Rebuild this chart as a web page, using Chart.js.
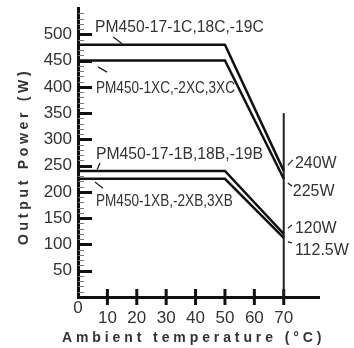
<!DOCTYPE html>
<html><head><meta charset="utf-8">
<script src="https://cdn.jsdelivr.net/npm/chart.js@4/dist/chart.umd.min.js"></script>
<style>html,body{margin:0;padding:0;background:#fff}#wrap{width:354px;height:348px}</style>
</head><body><div id="wrap"><canvas id="c" width="354" height="348"></canvas></div>
<script>
// ---- data ----
const temps = [0, 50, 70];
const powerC1 = [480, 480, 240];   // PM450-17-1C,18C,-19C
const powerC2 = [450, 450, 225];   // PM450-1XC,-2XC,3XC
const powerB1 = [240, 240, 120];   // PM450-17-1B,18B,-19B
const powerB2 = [225, 225, 112.5]; // PM450-1XB,-2XB,3XB
const limitTemp = 70;
const limitLineTop = 350;

const xTitle = 'Ambient temperature (°C)';
const yTitle = 'Output Power (W)';
const xTickValues = [0, 10, 20, 30, 40, 50, 60, 70];
const yTickValues = [50, 100, 150, 200, 250, 300, 350, 400, 450, 500];

// annotation labels (data coordinates)
const noteTexts = ['PM450-17-1C,18C,-19C', 'PM450-1XC,-2XC,3XC', 'PM450-17-1B,18B,-19B', 'PM450-1XB,-2XB,3XB',
                   '240W', '225W', '120W', '112.5W'];
const noteX = [5.8, 6.1, 6.1, 6.1, 73.8, 73.1, 73.8, 73.8];
const noteY = [514, 398, 272, 183, 255, 202, 131, 89];
// leader marks: start / end in data coordinates
const leadX1 = [12, 6.8, 7.5, 5.8, 71.4, 71.4, 71.4, 71.4];
const leadY1 = [495, 438, 255, 219, 251, 217, 131, 105];
const leadX2 = [15, 9.9, 6.5, 8.5, 73.1, 72.8, 72.8, 72.8];
const leadY2 = [482, 428, 242, 207, 261, 211, 137, 103];

const toPts = (xs, ys) => xs.map((v, i) => ({x: v, y: ys[i]}));
const FONT = '"Liberation Sans", Arial, sans-serif';

const decor = {
  id: 'decor',
  beforeDatasetsDraw(chart) {
    const {ctx, scales: {x, y}} = chart;
    const x0 = x.getPixelForValue(0);
    ctx.save();
    for (let i = 1; i * 10 < y.max; i++) {
      const v = i * 10;
      const py = Math.round(y.getPixelForValue(v)) + 0.5;
      const major = v % 50 === 0;
      ctx.beginPath();
      ctx.strokeStyle = major ? '#111' : '#777';
      ctx.lineWidth = major ? 3 : 1;
      ctx.moveTo(x0, py);
      ctx.lineTo(x0 + (major ? 14 : 6), py);
      ctx.stroke();
    }
    const py0 = y.getPixelForValue(0);
    xTickValues.forEach(v => {
      if (v === 0) return;
      const px = x.getPixelForValue(v);
      ctx.beginPath();
      ctx.strokeStyle = '#111';
      ctx.lineWidth = 3;
      ctx.moveTo(px, py0 - 8);
      ctx.lineTo(px, py0 + 8);
      ctx.stroke();
    });
    ctx.restore();
  },
  afterDraw(chart) {
    const {ctx, scales: {x, y}} = chart;
    const squeeze = [0.92, 0.80, 0.925, 0.80, 0.94, 0.94, 0.94, 0.94];
    ctx.save();
    ctx.textAlign = 'left';
    ctx.textBaseline = 'middle';
    noteTexts.forEach((t, i) => {
      const px = x.getPixelForValue(noteX[i]);
      const py = y.getPixelForValue(noteY[i]);
      ctx.save();
      ctx.fillStyle = '#333';
      ctx.font = '17px ' + FONT;
      ctx.translate(px, py);
      ctx.scale(squeeze[i], 1);
      ctx.fillText(t, 0, 0);
      ctx.restore();
      ctx.beginPath();
      ctx.strokeStyle = '#222';
      ctx.lineWidth = 1.3;
      ctx.moveTo(x.getPixelForValue(leadX1[i]), y.getPixelForValue(leadY1[i]));
      ctx.lineTo(x.getPixelForValue(leadX2[i]), y.getPixelForValue(leadY2[i]));
      ctx.stroke();
    });
    // axis titles with wide letter spacing
    ctx.fillStyle = '#333';
    ctx.font = 'bold 14px ' + FONT;
    ctx.letterSpacing = '3.9px';
    ctx.textAlign = 'left';
    ctx.fillText(xTitle, 62, 338);
    ctx.letterSpacing = '3.7px';
    ctx.translate(24, 245);
    ctx.rotate(-Math.PI / 2);
    ctx.fillText(yTitle, 0, 0);
    ctx.restore();
  }
};

const lineStyle = {borderColor: '#111', borderWidth: 2.5, pointRadius: 0, fill: false, tension: 0};

new Chart(document.getElementById('c'), {
  type: 'line',
  data: {
    datasets: [
      {label: 'C1', data: toPts(temps, powerC1), ...lineStyle},
      {label: 'C2', data: toPts(temps, powerC2), ...lineStyle},
      {label: 'B1', data: toPts(temps, powerB1), ...lineStyle},
      {label: 'B2', data: toPts(temps, powerB2), ...lineStyle},
      {label: 'limit', data: [{x: limitTemp, y: 0}, {x: limitTemp, y: limitLineTop}], borderColor: '#222', borderWidth: 2, pointRadius: 0}
    ]
  },
  options: {
    responsive: false,
    animation: false,
    layout: {padding: {top: 8, right: 35, left: 0, bottom: 0}},
    plugins: {legend: {display: false}, tooltip: {enabled: false}},
    scales: {
      x: {
        type: 'linear', min: 0, max: 82,
        afterFit: s => { s.height = 51; s.paddingLeft = 0; s.paddingRight = 0; },
        grid: {display: false, drawTicks: false},
        border: {display: true, width: 3, color: '#111'},
        ticks: {
          stepSize: 10, padding: 6, color: '#333', maxRotation: 0, autoSkip: false,
          font: {family: FONT, size: 17, lineHeight: 0.6},
          callback: v => xTickValues.includes(v) ? (v === 0 ? '0' : ['', String(v)]) : null
        }
      },
      y: {
        type: 'linear', min: 0, max: 550,
        afterFit: s => { s.width = 78; s.paddingTop = 0; s.paddingBottom = 0; },
        grid: {display: false, drawTicks: false},
        border: {display: true, width: 3, color: '#111'},
        ticks: {
          stepSize: 50, padding: 6, color: '#333', autoSkip: false,
          font: {family: FONT, size: 17},
          callback: v => yTickValues.includes(v) ? String(v) : null
        }
      }
    }
  },
  plugins: [decor]
});
</script>
</body></html>
